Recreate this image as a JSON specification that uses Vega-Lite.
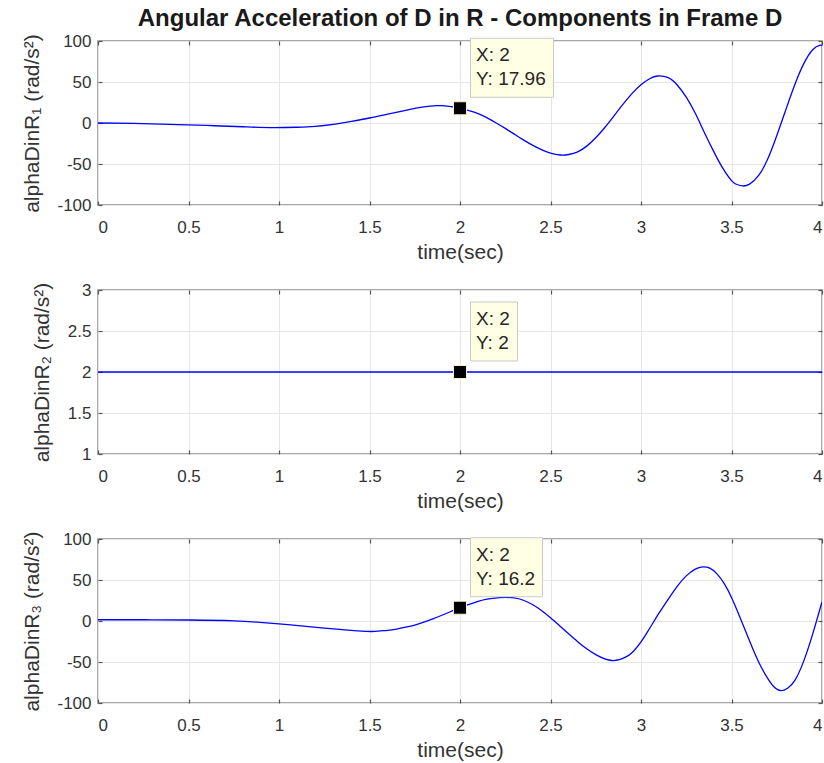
{
  "$schema": "https://vega.github.io/schema/vega-lite/v6.json",
  "autosize": {"type": "pad"},
  "padding": {"left": 20, "top": 6, "right": 1, "bottom": 5},
  "bounds": "flush",
  "spacing": 85,
  "datasets": {
    "a1": [
      {"t": 0, "v": 0}, {"t": 0.2, "v": -0.5}, {"t": 0.4, "v": -1.6}, {"t": 0.6, "v": -3.0}, {"t": 0.8, "v": -4.6},
      {"t": 0.95, "v": -5.6}, {"t": 1.1, "v": -5.2}, {"t": 1.2, "v": -4.2}, {"t": 1.3, "v": -1.8}, {"t": 1.4, "v": 1.9},
      {"t": 1.5, "v": 6.1}, {"t": 1.6, "v": 10.8}, {"t": 1.7, "v": 15.5}, {"t": 1.8, "v": 19.6}, {"t": 1.87, "v": 21.2},
      {"t": 1.9, "v": 21.1}, {"t": 1.95, "v": 20.0}, {"t": 2.0, "v": 17.96}, {"t": 2.05, "v": 15.1}, {"t": 2.1, "v": 11.5},
      {"t": 2.15, "v": 6.2}, {"t": 2.2, "v": 0}, {"t": 2.25, "v": -6.6}, {"t": 2.3, "v": -13.6}, {"t": 2.35, "v": -20.6},
      {"t": 2.4, "v": -27.0}, {"t": 2.45, "v": -32.5}, {"t": 2.5, "v": -36.6}, {"t": 2.555, "v": -39.0}, {"t": 2.6, "v": -38.4},
      {"t": 2.65, "v": -35.2}, {"t": 2.7, "v": -28.2}, {"t": 2.75, "v": -18.0}, {"t": 2.8, "v": -5.5}, {"t": 2.85, "v": 8.5},
      {"t": 2.9, "v": 22.7}, {"t": 2.95, "v": 35.8}, {"t": 3.0, "v": 46.7}, {"t": 3.05, "v": 54.3}, {"t": 3.092, "v": 57.3},
      {"t": 3.15, "v": 55.3}, {"t": 3.2, "v": 46.4}, {"t": 3.25, "v": 31.5}, {"t": 3.3, "v": 11.8}, {"t": 3.35, "v": -11.5},
      {"t": 3.4, "v": -34.0}, {"t": 3.45, "v": -54.5}, {"t": 3.5, "v": -70.2}, {"t": 3.53, "v": -75.0}, {"t": 3.563, "v": -76.8},
      {"t": 3.6, "v": -74.5}, {"t": 3.65, "v": -64.0}, {"t": 3.7, "v": -44.0}, {"t": 3.75, "v": -15.6}, {"t": 3.8, "v": 16.0},
      {"t": 3.85, "v": 46.9}, {"t": 3.9, "v": 72.7}, {"t": 3.95, "v": 89.7}, {"t": 3.987, "v": 94.7}, {"t": 4.0, "v": 94.5}
    ],
    "a2": [{"t": 0, "v": 2}, {"t": 4, "v": 2}],
    "a3": [
      {"t": 0, "v": 1.5}, {"t": 0.25, "v": 1.5}, {"t": 0.5, "v": 1.2}, {"t": 0.75, "v": 0.2}, {"t": 1.0, "v": -3.5},
      {"t": 1.25, "v": -8.8}, {"t": 1.48, "v": -12.6}, {"t": 1.55, "v": -12.3}, {"t": 1.6, "v": -11.4}, {"t": 1.65, "v": -9.8},
      {"t": 1.7, "v": -7.6}, {"t": 1.75, "v": -5.0}, {"t": 1.8, "v": -1.4}, {"t": 1.85, "v": 2.6}, {"t": 1.9, "v": 7.0},
      {"t": 1.95, "v": 11.6}, {"t": 2.0, "v": 16.2}, {"t": 2.05, "v": 20.4}, {"t": 2.1, "v": 24.0}, {"t": 2.15, "v": 26.7},
      {"t": 2.22, "v": 28.5}, {"t": 2.25, "v": 28.8}, {"t": 2.3, "v": 28.2}, {"t": 2.35, "v": 25.3}, {"t": 2.4, "v": 20.1},
      {"t": 2.45, "v": 12.8}, {"t": 2.5, "v": 3.9}, {"t": 2.55, "v": -5.8}, {"t": 2.6, "v": -15.6}, {"t": 2.65, "v": -25.2},
      {"t": 2.7, "v": -33.9}, {"t": 2.75, "v": -41.0}, {"t": 2.8, "v": -46.2}, {"t": 2.84, "v": -48.2}, {"t": 2.88, "v": -47.2},
      {"t": 2.92, "v": -43.5}, {"t": 2.96, "v": -36.5}, {"t": 3.0, "v": -25.5}, {"t": 3.03, "v": -15.3}, {"t": 3.06, "v": -4.6},
      {"t": 3.1, "v": 9.8}, {"t": 3.15, "v": 26.5}, {"t": 3.2, "v": 42.3}, {"t": 3.25, "v": 55.0}, {"t": 3.3, "v": 63.2},
      {"t": 3.341, "v": 66.0}, {"t": 3.38, "v": 64.5}, {"t": 3.42, "v": 57.5}, {"t": 3.46, "v": 45.5}, {"t": 3.5, "v": 28.6},
      {"t": 3.55, "v": 2.8}, {"t": 3.6, "v": -24.4}, {"t": 3.65, "v": -50.0}, {"t": 3.7, "v": -70.0}, {"t": 3.74, "v": -81.5},
      {"t": 3.775, "v": -85.0}, {"t": 3.81, "v": -82.0}, {"t": 3.85, "v": -72.5}, {"t": 3.9, "v": -48.3}, {"t": 3.95, "v": -14.8},
      {"t": 4.0, "v": 23.3}
    ],
    "tip1": [{"t": 2, "v": 17.96, "xl": "X: 2", "yl": "Y: 17.96"}],
    "tip2": [{"t": 2, "v": 2, "xl": "X: 2", "yl": "Y: 2"}],
    "tip3": [{"t": 2, "v": 16.2, "xl": "X: 2", "yl": "Y: 16.2"}]
  },
  "vconcat": [
    {
      "width": 724, "height": 164,
      "title": {"text": "Angular Acceleration of D in R - Components in Frame D", "anchor": "middle", "frame": "group", "fontSize": 24, "fontWeight": "bold", "font": "Liberation Sans", "color": "#1a1a1a", "offset": 0},
      "resolve": {"axis": {"x": "independent", "y": "independent"}},
      "layer": [
        {
          "data": {"name": "a1"},
          "mark": {"type": "line", "color": "#0000ff", "strokeWidth": 1.3, "interpolate": "natural", "clip": true},
          "encoding": {
            "x": {"field": "t", "type": "quantitative", "scale": {"domain": [0, 4], "nice": false}, "axis": {"values": [0, 0.5, 1, 1.5, 2, 2.5, 3, 3.5, 4], "title": "time(sec)", "orient": "bottom"}},
            "y": {"field": "v", "type": "quantitative", "scale": {"domain": [-100, 100], "nice": false}, "axis": {"values": [-100, -50, 0, 50, 100], "title": "alphaDinR₁  (rad/s²)", "orient": "left"}}
          }
        },
        {
          "data": {"name": "a1"},
          "mark": {"type": "line", "opacity": 0},
          "encoding": {
            "x": {"field": "t", "type": "quantitative", "axis": {"values": [0, 0.5, 1, 1.5, 2, 2.5, 3, 3.5, 4], "orient": "top", "labels": false, "grid": false, "title": null}},
            "y": {"field": "v", "type": "quantitative", "axis": {"values": [-100, -50, 0, 50, 100], "orient": "right", "labels": false, "grid": false, "title": null}}
          }
        },
        {
          "data": {"name": "tip1"},
          "mark": {"type": "rect", "width": 83, "height": 59, "xOffset": 52, "yOffset": -40.5, "fill": "#ffffe4", "stroke": "#c9c9c9", "strokeWidth": 1},
          "encoding": {
            "x": {"field": "t", "type": "quantitative", "axis": null},
            "y": {"field": "v", "type": "quantitative", "axis": null}
          }
        },
        {
          "data": {"name": "tip1"},
          "mark": {"type": "point", "shape": "square", "size": 169, "filled": true, "fill": "#000000", "stroke": "#f5f0c8", "strokeWidth": 1, "opacity": 1},
          "encoding": {
            "x": {"field": "t", "type": "quantitative", "axis": null},
            "y": {"field": "v", "type": "quantitative", "axis": null}
          }
        },
        {
          "data": {"name": "tip1"},
          "mark": {"type": "text", "align": "left", "baseline": "alphabetic", "dx": 16, "dy": -47, "fontSize": 19, "font": "Liberation Sans", "color": "#262626"},
          "encoding": {
            "x": {"field": "t", "type": "quantitative", "axis": null},
            "y": {"field": "v", "type": "quantitative", "axis": null},
            "text": {"field": "xl"}
          }
        },
        {
          "data": {"name": "tip1"},
          "mark": {"type": "text", "align": "left", "baseline": "alphabetic", "dx": 16, "dy": -23, "fontSize": 19, "font": "Liberation Sans", "color": "#262626"},
          "encoding": {
            "x": {"field": "t", "type": "quantitative", "axis": null},
            "y": {"field": "v", "type": "quantitative", "axis": null},
            "text": {"field": "yl"}
          }
        }
      ]
    },
    {
      "width": 724, "height": 164,
      "resolve": {"axis": {"x": "independent", "y": "independent"}},
      "layer": [
        {
          "data": {"name": "a2"},
          "mark": {"type": "line", "color": "#0000ff", "strokeWidth": 1.3, "clip": true},
          "encoding": {
            "x": {"field": "t", "type": "quantitative", "scale": {"domain": [0, 4], "nice": false}, "axis": {"values": [0, 0.5, 1, 1.5, 2, 2.5, 3, 3.5, 4], "title": "time(sec)", "orient": "bottom"}},
            "y": {"field": "v", "type": "quantitative", "scale": {"domain": [1, 3], "nice": false}, "axis": {"values": [1, 1.5, 2, 2.5, 3], "title": "alphaDinR₂  (rad/s²)", "orient": "left"}}
          }
        },
        {
          "data": {"name": "a2"},
          "mark": {"type": "line", "opacity": 0},
          "encoding": {
            "x": {"field": "t", "type": "quantitative", "axis": {"values": [0, 0.5, 1, 1.5, 2, 2.5, 3, 3.5, 4], "orient": "top", "labels": false, "grid": false, "title": null}},
            "y": {"field": "v", "type": "quantitative", "axis": {"values": [1, 1.5, 2, 2.5, 3], "orient": "right", "labels": false, "grid": false, "title": null}}
          }
        },
        {
          "data": {"name": "tip2"},
          "mark": {"type": "rect", "width": 47, "height": 59, "xOffset": 34, "yOffset": -40.5, "fill": "#ffffe4", "stroke": "#c9c9c9", "strokeWidth": 1},
          "encoding": {
            "x": {"field": "t", "type": "quantitative", "axis": null},
            "y": {"field": "v", "type": "quantitative", "axis": null}
          }
        },
        {
          "data": {"name": "tip2"},
          "mark": {"type": "point", "shape": "square", "size": 169, "filled": true, "fill": "#000000", "stroke": "#f5f0c8", "strokeWidth": 1, "opacity": 1},
          "encoding": {
            "x": {"field": "t", "type": "quantitative", "axis": null},
            "y": {"field": "v", "type": "quantitative", "axis": null}
          }
        },
        {
          "data": {"name": "tip2"},
          "mark": {"type": "text", "align": "left", "baseline": "alphabetic", "dx": 16, "dy": -47, "fontSize": 19, "font": "Liberation Sans", "color": "#262626"},
          "encoding": {
            "x": {"field": "t", "type": "quantitative", "axis": null},
            "y": {"field": "v", "type": "quantitative", "axis": null},
            "text": {"field": "xl"}
          }
        },
        {
          "data": {"name": "tip2"},
          "mark": {"type": "text", "align": "left", "baseline": "alphabetic", "dx": 16, "dy": -23, "fontSize": 19, "font": "Liberation Sans", "color": "#262626"},
          "encoding": {
            "x": {"field": "t", "type": "quantitative", "axis": null},
            "y": {"field": "v", "type": "quantitative", "axis": null},
            "text": {"field": "yl"}
          }
        }
      ]
    },
    {
      "width": 724, "height": 164,
      "resolve": {"axis": {"x": "independent", "y": "independent"}},
      "layer": [
        {
          "data": {"name": "a3"},
          "mark": {"type": "line", "color": "#0000ff", "strokeWidth": 1.3, "interpolate": "natural", "clip": true},
          "encoding": {
            "x": {"field": "t", "type": "quantitative", "scale": {"domain": [0, 4], "nice": false}, "axis": {"values": [0, 0.5, 1, 1.5, 2, 2.5, 3, 3.5, 4], "title": "time(sec)", "orient": "bottom"}},
            "y": {"field": "v", "type": "quantitative", "scale": {"domain": [-100, 100], "nice": false}, "axis": {"values": [-100, -50, 0, 50, 100], "title": "alphaDinR₃  (rad/s²)", "orient": "left"}}
          }
        },
        {
          "data": {"name": "a3"},
          "mark": {"type": "line", "opacity": 0},
          "encoding": {
            "x": {"field": "t", "type": "quantitative", "axis": {"values": [0, 0.5, 1, 1.5, 2, 2.5, 3, 3.5, 4], "orient": "top", "labels": false, "grid": false, "title": null}},
            "y": {"field": "v", "type": "quantitative", "axis": {"values": [-100, -50, 0, 50, 100], "orient": "right", "labels": false, "grid": false, "title": null}}
          }
        },
        {
          "data": {"name": "tip3"},
          "mark": {"type": "rect", "width": 72, "height": 59, "xOffset": 46.5, "yOffset": -40.5, "fill": "#ffffe4", "stroke": "#c9c9c9", "strokeWidth": 1},
          "encoding": {
            "x": {"field": "t", "type": "quantitative", "axis": null},
            "y": {"field": "v", "type": "quantitative", "axis": null}
          }
        },
        {
          "data": {"name": "tip3"},
          "mark": {"type": "point", "shape": "square", "size": 169, "filled": true, "fill": "#000000", "stroke": "#f5f0c8", "strokeWidth": 1, "opacity": 1},
          "encoding": {
            "x": {"field": "t", "type": "quantitative", "axis": null},
            "y": {"field": "v", "type": "quantitative", "axis": null}
          }
        },
        {
          "data": {"name": "tip3"},
          "mark": {"type": "text", "align": "left", "baseline": "alphabetic", "dx": 16, "dy": -47, "fontSize": 19, "font": "Liberation Sans", "color": "#262626"},
          "encoding": {
            "x": {"field": "t", "type": "quantitative", "axis": null},
            "y": {"field": "v", "type": "quantitative", "axis": null},
            "text": {"field": "xl"}
          }
        },
        {
          "data": {"name": "tip3"},
          "mark": {"type": "text", "align": "left", "baseline": "alphabetic", "dx": 16, "dy": -23, "fontSize": 19, "font": "Liberation Sans", "color": "#262626"},
          "encoding": {
            "x": {"field": "t", "type": "quantitative", "axis": null},
            "y": {"field": "v", "type": "quantitative", "axis": null},
            "text": {"field": "yl"}
          }
        }
      ]
    }
  ],
  "config": {
    "background": "#ffffff",
    "view": {"stroke": "#8c8c8c", "strokeWidth": 1.5},
    "axis": {
      "domain": false,
      "labelFont": "Liberation Sans", "labelFontSize": 17, "labelColor": "#333333",
      "labelExpr": "datum.value + ''",
      "titleFont": "Liberation Sans", "titleFontSize": 21, "titleFontWeight": "normal", "titleColor": "#333333",
      "gridColor": "#e6e6e6", "gridWidth": 1,
      "tickColor": "#555555", "tickSize": -4, "tickWidth": 1.2
    },
    "axisBottom": {"labelPadding": 18, "titlePadding": 6},
    "axisLeft": {"labelPadding": 11, "titlePadding": 14.5},
    "axisTop": {"labelPadding": 0},
    "axisRight": {"labelPadding": 0}
  }
}
